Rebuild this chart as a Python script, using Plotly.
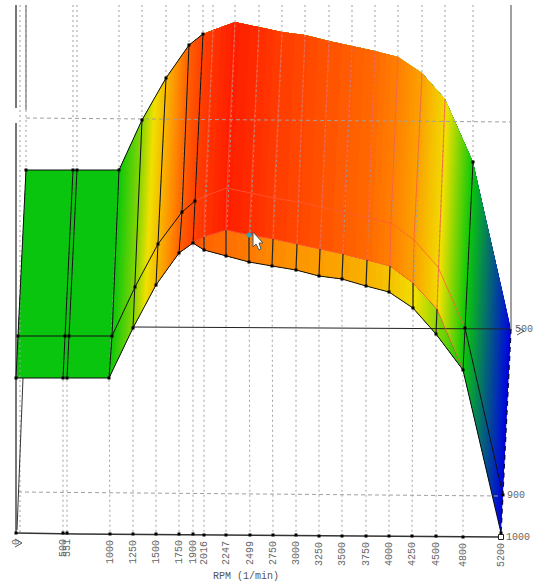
import plotly.graph_objects as go

# categories
rpm = [0, 500, 551, 1000, 1250, 1500, 1750, 1900, 2016, 2247, 2499, 2750, 3000, 3250, 3500, 3750, 4000, 4250, 4500, 4800, 5200]
rpm_labels = [str(v) for v in rpm]

# surface rows, as plotted positions
top_x = [26, 73, 77, 119, 142, 166, 189, 203, 213, 235, 259, 282, 305, 329, 352, 375, 398, 422, 445, 473, 511]
top_y = [170, 170, 170, 170, 120, 78, 45, 34, 30, 22, 27, 32, 35, 41, 46, 51, 57, 73, 99, 162, 329]
mid_x = [18, 65, 69, 112, 135, 158, 182, 195, 205, 227, 251, 274, 298, 322, 343, 368, 391, 414, 438, 465, 503]
mid_y = [336, 336, 336, 336, 287, 244, 212, 201, 196, 188, 193, 198, 202, 207, 212, 218, 223, 240, 267, 328, 495]
fold_x = [16, 63, 67, 109, 133, 156, 179, 193, 204, 226, 249, 273, 297, 320, 343, 367, 390, 413, 437, 463, 501]
fold_y = [378, 378, 378, 378, 328, 285, 253, 243, 237, 230, 235, 239, 244, 249, 254, 260, 266, 283, 309, 370, 533]
low_x = [16, 63, 67, 109, 133, 156, 179, 193, 204, 226, 249, 272, 296, 319, 342, 366, 389, 413, 436, 463, 501]
low_y = [378, 378, 378, 378, 328, 285, 253, 243, 250, 256, 262, 266, 270, 276, 279, 286, 292, 308, 334, 370, 533]

# surface colour values
upper_val = [.33, .33, .33, .33, .45, .64, .85, .92, .95, 1.0, .97, .93, .91, .88, .86, .83, .78, .70, .57, .33, 0]
band_val = [.92, .84, .82, .79, .76, .73, .71, .69, .66, .62, .56, .46, .33]
BAND_FROM = 7
BAND_TO = 20

# baseline ticks
tick_x = [16, 63, 67, 110, 133, 156, 179, 193, 204, 226, 250, 273, 296, 319, 342, 366, 389, 412, 436, 463, 501]
tick_y = [533, 533, 533, 534, 534, 534, 534, 534, 535, 535, 535, 535, 535, 536, 536, 536, 536, 536, 536, 537, 537]

scale = [[0, '#0000e6'], [.33, '#0ac80a'], [.55, '#f0e000'], [.75, '#ff8c00'], [1, '#ff1e00']]
DARK = '#111111'
RED = 'rgba(255,90,60,0.75)'
GRID = '#a0a0a0'

fig = go.Figure()

def seg(xs, ys, color=DARK, width=1.0, dash='solid', mode='lines', **kw):
    fig.add_trace(go.Scatter(x=xs, y=ys, mode=mode, line=dict(color=color, width=width, dash=dash),
                             hoverinfo='skip', showlegend=False, **kw))

# back grid
for i in range(len(rpm)):
    if i == len(rpm) - 1:
        seg([low_x[i], tick_x[i]], [low_y[i], tick_y[i]], GRID, 1, '2px,3px')
    else:
        seg([top_x[i], top_x[i], low_x[i], tick_x[i]], [5, top_y[i], low_y[i], tick_y[i]], GRID, 1, '2px,3px')
seg([26, 511], [118, 122], GRID, 1, '4px,3px')
seg([18, 501], [492, 496], GRID, 1, '4px,3px')
seg([20, 20], [5, 533], GRID, 1, '2px,3px')
# axes
seg([133, 511], [327, 329], '#222222', 1)
seg([16, 77, 501], [533, 534, 537], '#333333', 1.3)
seg([511, 511], [5, 329], '#888888', 1.6)
seg([16, 16], [5, 108], '#777777', 2)
seg([16, 16], [123, 533], '#777777', 2)
seg([26, 26], [5, 110], '#888888', 1.4)
seg([23, 17], [378, 530], '#333333', 1)
# axis arrow heads
seg([517, 524, 517], [327, 331, 335], '#555555', 1)
seg([15, 22, 15], [539, 543, 547], '#555555', 1)

# surface
hidden_axis = dict(showgrid=False, showticklabels='none', startline=False, endline=False,
                   minorgridcount=0, tickmode='array', tickvals=[], smoothing=0)

def sheet(name, a_values, rows_x, rows_y, z):
    b_values = list(range(len(rows_x)))
    fig.add_trace(go.Carpet(carpet=name, a=a_values, b=b_values, x=rows_x, y=rows_y,
                            aaxis=hidden_axis, baxis=hidden_axis))
    fig.add_trace(go.Contourcarpet(carpet=name, a=a_values, b=b_values, z=z,
                                   colorscale=scale, zmin=0, zmax=1, showscale=False,
                                   autocontour=False,
                                   contours=dict(start=-.00625, end=1.00625, size=.0125, coloring='fill'),
                                   line=dict(width=0)))

sheet('band', rpm[BAND_FROM:BAND_TO], [fold_x[BAND_FROM:BAND_TO], low_x[BAND_FROM:BAND_TO]],
      [fold_y[BAND_FROM:BAND_TO], low_y[BAND_FROM:BAND_TO]], [band_val, band_val])
sheet('main', rpm, [top_x, mid_x, fold_x], [top_y, mid_y, fold_y], [upper_val, upper_val, upper_val])

# mesh lines
B = BAND_FROM
seg(top_x[:B + 1], top_y[:B + 1])
seg(mid_x[:B + 1], mid_y[:B + 1])
seg(mid_x[B:BAND_TO], mid_y[B:BAND_TO], RED, 1)
seg(fold_x[B:BAND_TO], fold_y[B:BAND_TO], RED, 1)
seg(low_x, low_y, '#111111', 1)
seg([top_x[-2], mid_x[-2], low_x[-2]], [top_y[-2], mid_y[-2], low_y[-2]])
seg([mid_x[-2], mid_x[-1]], [mid_y[-2], mid_y[-1]])
seg([top_x[-1], mid_x[-1], low_x[-1]], [top_y[-1], mid_y[-1], low_y[-1]], '#0a0a40', 1.4, '5px,4px')
for i in range(len(rpm) - 2):
    if i <= B:
        seg([top_x[i], mid_x[i], low_x[i]], [top_y[i], mid_y[i], low_y[i]])
    else:
        seg([top_x[i], mid_x[i], fold_x[i]], [top_y[i], mid_y[i], fold_y[i]], RED, 1)
        seg([fold_x[i], low_x[i]], [fold_y[i], low_y[i]], '#222222', 1.2)

# nodes
nx = low_x[:] + mid_x[:B + 1] + top_x[:B + 1] + [top_x[-2], mid_x[-2], mid_x[-1]]
ny = low_y[:] + mid_y[:B + 1] + top_y[:B + 1] + [top_y[-2], mid_y[-2], mid_y[-1]]
fig.add_trace(go.Scatter(x=nx, y=ny, mode='markers', marker=dict(color='black', size=3, symbol='square'),
                         hoverinfo='skip', showlegend=False))
fig.add_trace(go.Scatter(x=tick_x[:-1], y=tick_y[:-1], mode='markers', marker=dict(color='black', size=3, symbol='square'),
                         hoverinfo='skip', showlegend=False))

# cursor
cursor_x = [253, 253, 256, 259, 261, 259, 263, 253]
cursor_y = [232, 247, 244, 250, 249, 243, 243, 232]
fig.add_trace(go.Scatter(x=cursor_x, y=cursor_y, mode='lines', fill='toself', fillcolor='white',
                         line=dict(color='#555555', width=1), hoverinfo='skip', showlegend=False))
fig.add_trace(go.Scatter(x=[249], y=[235], mode='markers', marker=dict(color='#2aa6c0', size=5),
                         hoverinfo='skip', showlegend=False))

# end marker
fig.add_trace(go.Scatter(x=[501], y=[537], mode='markers',
                         marker=dict(color='white', size=5, symbol='square', line=dict(color='#222222', width=1)),
                         hoverinfo='skip', showlegend=False))

FONT = 'Liberation Mono'
ann = []
for x, y, t in zip(tick_x, tick_y, rpm_labels):
    ann.append(dict(x=x, y=y + 4, text=t, textangle=-90, showarrow=False, xref='x', yref='y',
                    yanchor='top', xanchor='center', font=dict(family=FONT, size=10, color='#666666')))
side_labels = ['500', '900', '1000']
side_x = [513, 505, 504]
side_y = [329, 495, 537]
for x, y, t in zip(side_x, side_y, side_labels):
    ann.append(dict(x=x, y=y, text=t, showarrow=False, xref='x', yref='y', xanchor='left', yanchor='middle',
                    font=dict(family=FONT, size=10, color='#666666')))
ann.append(dict(x=246, y=576, text='RPM (1/min)', showarrow=False, xref='x', yref='y', yanchor='middle',
                font=dict(family=FONT, size=10, color='#555555')))

fig.update_layout(width=536, height=582, margin=dict(l=0, r=0, t=0, b=0), paper_bgcolor='white', plot_bgcolor='white',
                  showlegend=False, annotations=ann,
                  xaxis=dict(range=[0, 536], visible=False, fixedrange=True),
                  yaxis=dict(range=[582, 0], visible=False, fixedrange=True))
fig.write_html('out.html', config=dict(displayModeBar=False), post_script="document.body.style.margin='0';")
